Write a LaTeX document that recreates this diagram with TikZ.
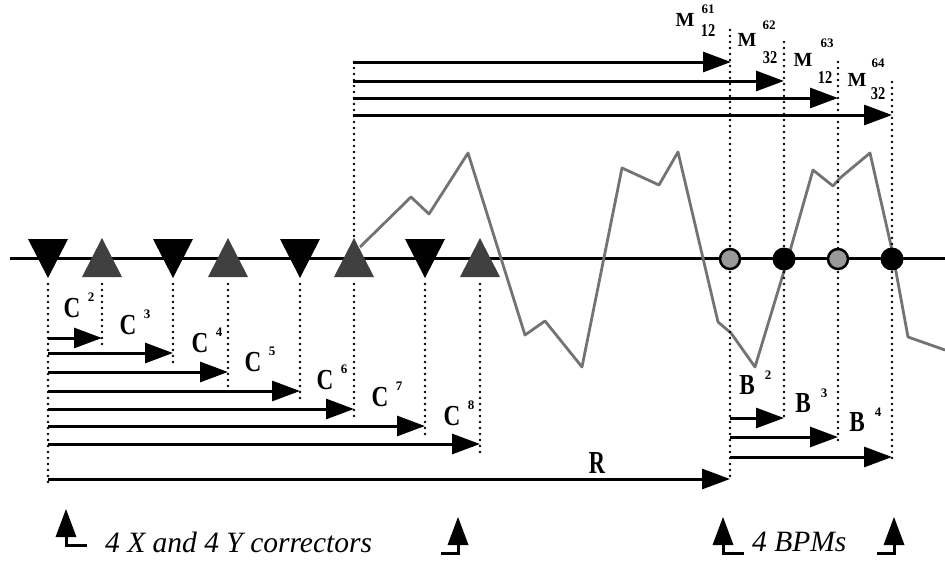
\documentclass[tikz,border=0pt]{standalone}
\usepackage{fontspec}
\setmainfont{Liberation Serif}
\usepackage{graphicx}
\usetikzlibrary{arrows.meta,calc}
\newcommand\nar[1]{\scalebox{0.8}[1]{#1}}
\newcommand\narb[1]{\scalebox{0.8}[1]{#1}}
\newcommand\narr[1]{\scalebox{0.7}[1]{#1}}
\begin{document}
\begin{tikzpicture}[x=1pt,y=-1pt,
  axisline/.style={line width=3pt},
  dots/.style={line width=2.6pt, dash pattern=on 0pt off 6pt, line cap=round},
  arr/.style={line width=3pt, -{Triangle[length=28pt,width=20pt]}},
  wave/.style={black!55, line width=2.8pt, line join=round},
  lblC/.style={font=\bfseries\fontsize{29}{29}\selectfont, inner sep=0pt},
  lblR/.style={font=\bfseries\fontsize{32}{32}\selectfont, inner sep=0pt},
  lblM/.style={font=\bfseries\fontsize{20}{20}\selectfont, inner sep=0pt},
  supl/.style={font=\bfseries\fontsize{13}{13}\selectfont, inner sep=0pt},
  subl/.style={font=\bfseries\fontsize{18}{18}\selectfont, inner sep=0pt},
  btm/.style={font=\itshape\fontsize{29.5}{29.5}\selectfont, inner sep=0pt, anchor=west},
  bpmshade/.style={circle, minimum size=20pt, inner sep=0pt, fill=black!40, draw=black, line width=2.5pt},
  bpmblack/.style={circle, minimum size=23pt, inner sep=0pt, fill=black},
  downtri/.pic={\fill[black] (-20,-19) -- (20,-19) -- (0,20) -- cycle;},
  uptri/.pic={\fill[black!75] (-20,19) -- (20,19) -- (0,-20) -- cycle;},
  markR/.pic={\fill (0,-28) -- (-10.5,0) -- (10.5,0) -- cycle; \draw[line width=3pt] (0,-2) -- (0,8) -- (21,8);},
  markL/.pic={\fill (0,-28) -- (-10.5,0) -- (10.5,0) -- cycle; \draw[line width=3pt] (0,-2) -- (0,8) -- (-17,8);}
]
\useasboundingbox (0,0) rectangle (945,565);

% axis
\coordinate (axL) at (10,258);
\coordinate (axR) at (945,258);
\draw[axisline] (axL) -- (axR);

% waveform
\draw[wave] (360,247) -- (411,197) -- (429,214) -- (468,153) -- (525,335) -- (545,321)
  -- (582,367) -- (622,168) -- (659,185) -- (678,152) -- (718,322) -- (731,333)
  -- (755,367) -- (788,258) -- (813,170) -- (833,186) -- (840,178) -- (870,153)
  -- (892,250) -- (908,337) -- (945,350);

% corrector dotted lines
\foreach \x/\e/\n in {48/482/1,102/345/2,173/365/3,228/388/4,300/399/5,354/418/6,425/438/7,480/457/8}{
  \coordinate (ctop\n) at (\x,284);
  \coordinate (cbot\n) at (\x,\e);
  \draw[dots] (ctop\n) -- (cbot\n);
}
\coordinate (c6up) at (354,62);
\coordinate (c6dn) at (354,236);
\draw[dots] (c6up) -- (c6dn);

% BPM dotted lines
\foreach \x/\t/\e/\n in {730/30/476/1,784/42/420/2,838/62/440/3,892/82/460/4}{
  \coordinate (btop\n) at (\x,\t);
  \coordinate (bmid\n) at (\x,248);
  \coordinate (bmid2\n) at (\x,272);
  \coordinate (bbot\n) at (\x,\e);
  \draw[dots] (btop\n) -- (bmid\n);
  \draw[dots] (bmid2\n) -- (bbot\n);
}

% triangles (correctors)
\foreach \x in {48,173,300,425}{ \pic at (\x,258) {downtri}; }
\foreach \x in {102,228,354,480}{ \pic at (\x,258) {uptri}; }

% BPMs
\node[bpmshade] (b1) at (730,259) {};
\node[bpmblack] (b2) at (784,259) {};
\node[bpmshade] (b3) at (838,259) {};
\node[bpmblack] (b4) at (892,259) {};

% corrector arrows
\foreach \y/\x/\n in {338/102/2,353/173/3,372/228/4,391/300/5,409/354/6,426/425/7,444/480/8,479/730/R}{
  \coordinate (as\n) at (48,\y);
  \coordinate (ae\n) at (\x,\y);
  \draw[arr] (as\n) -- (ae\n);
}

% M arrows
\foreach \y/\x/\n in {62/731/1,81/784/2,98/838/3,115/892/4}{
  \coordinate (ms\n) at (353,\y);
  \coordinate (me\n) at (\x,\y);
  \draw[arr] (ms\n) -- (me\n);
}

% B arrows
\foreach \y/\x/\n in {418/784/2,437/838/3,457/892/4}{
  \coordinate (bs\n) at (730,\y);
  \coordinate (be\n) at (\x,\y);
  \draw[arr] (bs\n) -- (be\n);
}

% C labels
\foreach \cx/\cy/\n in {72/308/2,128/325/3,200/343/4,253/362/5,325/380/6,380/397/7,452/416/8}{
  \node[lblC] (cl\n) at (\cx,\cy) {\nar{C}};
  \node[supl] (cls\n) at ($(\cx,\cy)+(19,-11)$) {\n};
}
\node[lblR] (rl) at (597,463) {\narr{R}};

% B labels
\foreach \cx/\cy/\n in {747/385/2,803/403/3,857/422/4}{
  \node[lblC] (bl\n) at (\cx,\cy) {\narb{B}};
  \node[supl] (bls\n) at ($(\cx,\cy)+(21,-10)$) {\n};
}

% M labels
\node[lblM] (m1) at (685,20) {M};
\node[supl] (m1s) at (708,9) {61};
\node[subl] (m1b) at (708,31) {\narb{12}};
\node[lblM] (m2) at (747,40) {M};
\node[supl] (m2s) at (769,25) {62};
\node[subl] (m2b) at (770,58) {\narb{32}};
\node[lblM] (m3) at (803,60) {M};
\node[supl] (m3s) at (827,43) {63};
\node[subl] (m3b) at (825,78) {\narb{12}};
\node[lblM] (m4) at (857,80) {M};
\node[supl] (m4s) at (878,63) {64};
\node[subl] (m4b) at (878,94) {\narb{32}};

% bottom legend
\pic at (66,537) {markR};
\node[btm] (leg1) at (105,542) {4 X and 4 Y correctors};
\pic at (458,545) {markL};
\pic at (723,545) {markR};
\node[btm] (leg2) at (752,542) {4 BPMs};
\pic at (894,545) {markL};
\end{tikzpicture}
\end{document}
